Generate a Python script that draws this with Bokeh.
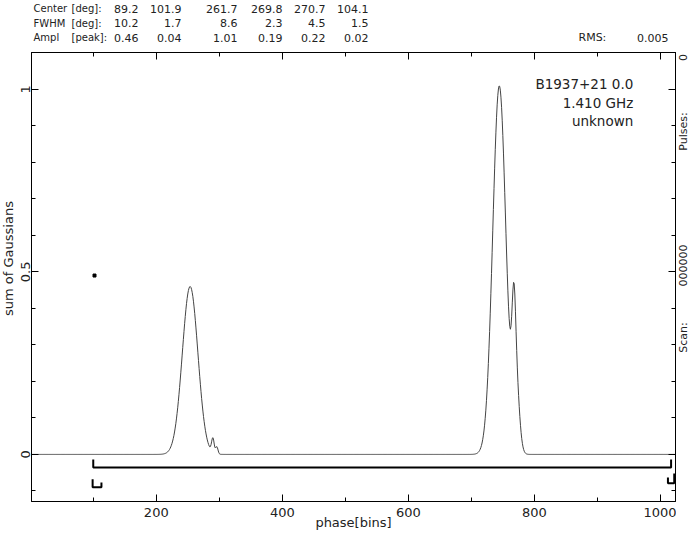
import numpy as np
from math import pi
from bokeh.plotting import figure
from bokeh.models import Range1d, FixedTicker, LinearAxis, Label, CustomJSTickFormatter
from bokeh.layouts import column, row
from bokeh.core.properties import value
from bokeh.embed import file_html
from bokeh.resources import INLINE

# ---- data: Gaussian components printed in the header ----
component_center_deg = [89.2, 101.9, 261.7, 269.8, 270.7, 104.1]
component_fwhm_deg = [10.2, 1.7, 8.6, 2.3, 4.5, 1.5]
component_ampl_peak = [0.46, 0.04, 1.01, 0.19, 0.22, 0.02]
rms_value = "0.005"
n_bins = 1024

row_names = ["Center", "FWHM", "Ampl"]
row_units = ["[deg]:", "[deg]:", "[peak]:"]
source_text = ["B1937+21 0.0", "1.410 GHz", "unknown"]
side_text = ["Scan:", "000000", "Pulses:", "0"]
y_title = "sum of Gaussians"
x_title = "phase[bins]"

# on-pulse window (bins) and a stray point
window_bins = [100, 1017]
dot_bin = [102]
dot_value = [0.49]

x_major_ticks = [200, 400, 600, 800, 1000]
x_minor_ticks = [100, 200, 300, 400, 500, 600, 700, 800, 900, 1000]
y_major_ticks = [0, 0.5, 1]
y_minor_ticks = [-0.1, 0.0, 0.1, 0.2, 0.3, 0.4, 0.5, 0.6, 0.7, 0.8, 0.9, 1.0, 1.1]

# ---- profile = sum of the listed Gaussians ----
bins = np.arange(n_bins)
phase_deg = bins * 360.0 / n_bins
profile = np.zeros(n_bins)
for c, w, a in zip(component_center_deg, component_fwhm_deg, component_ampl_peak):
    profile += a * np.exp(-4.0 * np.log(2.0) * (phase_deg - c) ** 2 / w ** 2)

# ---- layout (canvas px) ----
X0, X1 = 2, 1024
Y0, Y1 = -0.129, 1.101
TOTAL_W, TOTAL_H = 689, 533
HEAD_H = 51
MAIN_H = TOTAL_H - HEAD_H
LEFT_W = 15
SIDE_W = 13
MAIN_W = TOTAL_W - LEFT_W - SIDE_W
FRAME_TOP, FRAME_BOT = 52, 501          # canvas y of the plot frame
PX_PER_UNIT = (FRAME_BOT - FRAME_TOP) / (Y1 - Y0)

def ydata(canvas_y):
    return Y1 - (canvas_y - FRAME_TOP) / PX_PER_UNIT

FONT = "DejaVu Sans"
TXT = "#222222"

def bare(w, h, yr):
    f = figure(width=w, height=h, x_range=Range1d(0, w), y_range=yr,
               output_backend="svg", toolbar_location=None,
               x_axis_location=None, y_axis_location=None,
               min_border_left=0, min_border_right=0, min_border_top=0, min_border_bottom=0)
    f.xgrid.visible = False
    f.ygrid.visible = False
    f.outline_line_color = None
    f.background_fill_color = "white"
    f.border_fill_color = "white"
    return f

def txt(f, xs, ys, texts, size, align, angle=0.0):
    f.text(xs, ys, text=texts, angle=angle, text_font=value(FONT), text_font_size=value(size),
           text_color=TXT, text_align=align, text_baseline="middle")

# header strip (coordinates = canvas px)
head = bare(TOTAL_W, HEAD_H, Range1d(HEAD_H, 0))
row_y = [8, 22.5, 37]
col_right = [138, 181, 237, 282, 325, 368]
row_vals = [[f"{v:.1f}" for v in component_center_deg],
            [f"{v:.1f}" for v in component_fwhm_deg],
            [f"{v:.2f}" for v in component_ampl_peak]]
lx, ly, lt, vx, vy, vt = [], [], [], [], [], []
for ry, n1, n2, vals in zip(row_y, row_names, row_units, row_vals):
    lx += [33, 71]; ly += [ry, ry]; lt += [n1, n2]
    for cx, v in zip(col_right, vals):
        vx.append(cx); vy.append(ry); vt.append(v)
txt(head, lx, ly, lt, "10px", "left")
txt(head, [578], [row_y[2]], ["RMS:"], "11px", "left")
vx.append(668); vy.append(row_y[2]); vt.append(rms_value)
txt(head, vx, vy, vt, "11px", "right")

# main plot
yr = Range1d(Y0, Y1)
p = figure(width=MAIN_W, height=MAIN_H, x_range=Range1d(X0, X1), y_range=yr,
           output_backend="svg", toolbar_location=None,
           min_border_left=31 - LEFT_W, min_border_right=1,
           min_border_top=FRAME_TOP - HEAD_H, min_border_bottom=TOTAL_H - FRAME_BOT)
p.xgrid.visible = False
p.ygrid.visible = False
p.outline_line_color = "black"
p.background_fill_color = "white"
p.border_fill_color = "white"

def style_axis(ax):
    ax.axis_line_color = "black"
    ax.major_tick_line_color = "black"
    ax.minor_tick_line_color = "black"
    ax.major_tick_in = 7
    ax.major_tick_out = 0
    ax.minor_tick_in = 4
    ax.minor_tick_out = 0
    ax.major_label_text_font = FONT
    ax.major_label_text_font_size = "13px"
    ax.major_label_text_color = TXT
    ax.axis_label_text_font = FONT
    ax.axis_label_text_font_size = "13px"
    ax.axis_label_text_font_style = "normal"
    ax.axis_label_text_color = TXT

xa = p.xaxis[0]
xa.ticker = FixedTicker(ticks=x_major_ticks, minor_ticks=x_minor_ticks)
style_axis(xa)
xa.axis_label = x_title
xa.major_label_standoff = 6
xa.axis_label_standoff = -5

ya = p.yaxis[0]
ya.ticker = FixedTicker(ticks=y_major_ticks, minor_ticks=y_minor_ticks)
style_axis(ya)
ya.major_label_orientation = "vertical"
ya.major_label_standoff = 1
ya.formatter = CustomJSTickFormatter(code="return tick.toString()")

blank = CustomJSTickFormatter(code="return ''")
for loc, tk in (("above", (x_major_ticks, x_minor_ticks)), ("right", (y_major_ticks, y_minor_ticks))):
    ax = LinearAxis(ticker=FixedTicker(ticks=tk[0], minor_ticks=tk[1]), formatter=blank)
    style_axis(ax)
    ax.major_label_text_font_size = "0px"
    ax.major_label_standoff = 0
    p.add_layout(ax, loc)

# profile line
p.line(bins, profile, line_color="#444444", line_width=1)

# on-pulse window bracket
b_top, b_bot = -0.014, -0.036
p.line([window_bins[0], window_bins[0], window_bins[1], window_bins[1]],
       [b_top, b_bot, b_bot, b_top], line_color="black", line_width=2)
# small markers under the bracket ends
p.multi_line([[window_bins[0] - 1, window_bins[0] - 1, window_bins[0] + 13, window_bins[0] + 13],
              [window_bins[1] - 5, window_bins[1] - 5, window_bins[1] + 5, window_bins[1] + 5]],
             [[-0.068, -0.090, -0.090, -0.077],
              [-0.063, -0.079, -0.079, -0.052]],
             line_color="black", line_width=2)
p.scatter(dot_bin, dot_value, marker="square", size=3, color="black")

# source annotation inside the frame
ann_x = 957
ann_y = [1.016, 0.964, 0.912]
for t, yv in zip(source_text, ann_y):
    p.add_layout(Label(x=ann_x, y=yv, text=t, text_font=FONT, text_font_size="13.5px",
                       text_color=TXT, text_align="right", text_baseline="middle"))

# left strip with the y title (frames in a row are aligned, so use the plot's y scale)
left = bare(LEFT_W, MAIN_H, yr)
txt(left, [7.5], [ydata(258)], [y_title], "13px", "center", pi / 2)

# right strip, rotated texts
side = bare(SIDE_W, MAIN_H, yr)
side_y = [ydata(v) for v in (337, 265, 131, 57)]
txt(side, [6.5] * 4, side_y, side_text, "11px", "center", pi / 2)

layout = column(head, row(left, p, side, spacing=0), spacing=0)
open("out.html", "w").write(file_html(layout, INLINE))
